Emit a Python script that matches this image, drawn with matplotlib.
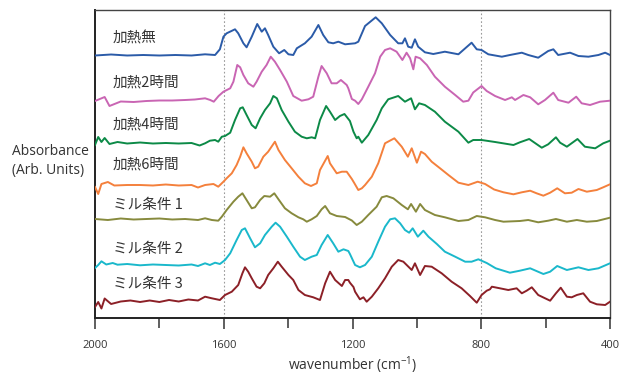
import matplotlib
matplotlib.use('Agg')
import matplotlib.pyplot as plt

plt.rcParams['font.family'] = ['Open Sans', 'Noto Sans CJK JP', 'DejaVu Sans']
plt.rcParams['mathtext.default'] = 'regular'

# spectra (wavenumber in cm-1, absorbance in arb. units incl. stacking offset)
wn_nashi = [2000, 1950, 1900, 1850, 1800, 1750, 1700, 1658, 1627, 1612, 1601, 1591, 1565, 1555, 1539, 1529, 1513,
            1496, 1482, 1472, 1462, 1446, 1428, 1412, 1399, 1384, 1373, 1348, 1327, 1306, 1291, 1275, 1260, 1244,
            1223, 1192, 1182, 1161, 1128, 1109, 1083, 1058, 1045, 1037, 1027, 1016, 1006, 996, 975, 949, 913, 871,
            830, 814, 799, 778, 736, 711, 674, 654, 623, 592, 576, 561, 524, 498, 467, 436, 415, 400]
ab_nashi = [262.5, 263.5, 262.5, 263, 262.5, 263, 262.5, 263.7, 263, 268.7, 281.3, 284.7, 288.7, 284.7, 274.7, 270.7,
            281.3, 294, 286.3, 289.7, 283, 271.3, 264.7, 268, 263.7, 263, 269.7, 274.7, 281.3, 293, 283, 275.7, 274.7,
            276.3, 273.7, 274.7, 276.3, 292, 300.7, 294.7, 283, 274.7, 274.7, 279.7, 271.3, 270.3, 278.7, 271.3,
            265.7, 264, 266.3, 263.7, 275.3, 268.7, 268, 263.7, 261.3, 263, 265.3, 263, 260.3, 267, 268.7, 263,
            265.3, 262, 261.3, 263, 265.3, 263]

wn_2h = [2000, 1970, 1955, 1920, 1880, 1840, 1800, 1760, 1720, 1690, 1658, 1642, 1631, 1616, 1601, 1580, 1570, 1558,
         1549, 1539, 1524, 1508, 1498, 1482, 1467, 1454, 1441, 1425, 1404, 1384, 1358, 1337, 1322, 1306, 1296, 1280,
         1265, 1249, 1236, 1218, 1213, 1202, 1192, 1182, 1171, 1151, 1130, 1114, 1099, 1083, 1063, 1045, 1032, 1021,
         1011, 1004, 990, 969, 944, 913, 881, 856, 840, 825, 799, 783, 757, 726, 705, 695, 669, 648, 623, 602, 576,
         561, 529, 505, 488, 462, 431, 400]
ab_2h = [217, 221, 212, 216.5, 216, 217, 217.5, 217.5, 218, 218.5, 219.7, 218, 216.3, 222, 226.3, 229.7, 236.3, 253,
         250.7, 243, 234.7, 231.3, 236.3, 246.3, 253, 261.3, 256.3, 248, 236.3, 222, 217.3, 218.7, 221.3, 241.3, 252,
         244.7, 234.7, 234.7, 238, 233, 229.7, 219, 217.3, 214, 218.7, 231.3, 244.7, 261.3, 268, 269.7, 266.3, 258,
         265.3, 259.7, 248.7, 261.3, 259.7, 253, 241.3, 231.3, 223, 216.3, 217.3, 225.5, 232, 227, 222, 218, 220.7,
         218, 223, 220.7, 213.7, 218, 225.3, 218, 215.3, 221.3, 214.7, 213, 216.3, 217.3]

wn_4h = [2000, 1990, 1980, 1970, 1955, 1930, 1900, 1860, 1820, 1780, 1740, 1700, 1675, 1658, 1643, 1627, 1617, 1606,
         1596, 1580, 1565, 1549, 1541, 1529, 1513, 1501, 1487, 1472, 1456, 1446, 1435, 1420, 1399, 1379, 1358, 1342,
         1327, 1316, 1301, 1282, 1270, 1254, 1239, 1225, 1208, 1197, 1187, 1182, 1171, 1151, 1125, 1109, 1089, 1058,
         1037, 1018, 1006, 993, 975, 944, 913, 871, 840, 825, 799, 757, 700, 680, 651, 612, 592, 568, 555, 534, 501,
         478, 446, 421, 400]
ab_4h = [173, 181, 176, 180, 174, 176, 174.5, 175.5, 174.5, 175, 174.5, 175, 172.5, 174.7, 177.3, 178, 176.3, 181.3,
         182, 185.3, 198, 209.7, 210.7, 203, 193, 189.7, 199.7, 208, 214.7, 222, 219.7, 208, 196.3, 186.3, 181.3,
         179.7, 180.7, 179.7, 198, 212, 206.3, 198, 202, 204, 197, 186.3, 179.7, 181.3, 175.3, 183, 198, 209.7, 218.7,
         222, 216.3, 219.7, 208.7, 214.7, 213, 206.3, 196.3, 186.3, 175.3, 178, 178, 176, 173, 175.7, 179, 170.3,
         173.7, 180.7, 175.3, 171.3, 179, 171.3, 169.7, 174.7, 177.3]

wn_6h = [2000, 1990, 1980, 1960, 1940, 1900, 1860, 1820, 1780, 1740, 1700, 1680, 1658, 1632, 1617, 1601, 1591, 1575,
         1560, 1549, 1539, 1529, 1513, 1503, 1493, 1477, 1462, 1441, 1430, 1410, 1389, 1368, 1348, 1329, 1311, 1301,
         1277, 1270, 1249, 1233, 1218, 1202, 1194, 1182, 1171, 1161, 1140, 1120, 1099, 1070, 1047, 1028, 1016, 1000,
         987, 975, 954, 928, 902, 871, 840, 811, 788, 760, 731, 700, 674, 648, 628, 607, 586, 564, 540, 519, 498, 472,
         441, 421, 400]
ab_6h = [131, 124, 134, 136, 132.5, 133, 133, 132.5, 133.5, 132.5, 133, 130.5, 133, 134, 131.3, 136.3, 139.7, 144.7,
         153, 161.3, 170.7, 164.7, 156.3, 149.7, 151.3, 161.3, 166.3, 176.3, 168, 158, 149.7, 141.3, 134.7, 132, 134.7,
         148, 162, 154.7, 144.7, 146.3, 146.3, 139, 134.7, 128, 129.7, 133, 141.3, 154.7, 174.7, 179.7, 171.3, 161.3,
         169.7, 155.3, 166.3, 164, 156.3, 149.7, 143, 135.3, 133, 136.3, 134, 128.5, 125.7, 123.7, 125.7, 127.3,
         124.7, 122.3, 125.3, 129.7, 124.7, 125.3, 129, 126.3, 128, 130.7, 133.7]

wn_mill1 = [2000, 1960, 1920, 1880, 1840, 1800, 1760, 1720, 1680, 1658, 1637, 1617, 1606, 1591, 1570, 1555, 1542, 1529,
            1513, 1503, 1487, 1474, 1456, 1443, 1430, 1410, 1389, 1368, 1353, 1342, 1327, 1311, 1296, 1285, 1270,
            1249, 1223, 1202, 1187, 1171, 1151, 1125, 1109, 1094, 1073, 1047, 1028, 1018, 1003, 990, 975, 944, 913,
            871, 840, 814, 788, 757, 731, 680, 654, 623, 592, 568, 534, 503, 472, 441, 400]
ab_mill1 = [99, 98, 99.5, 98.5, 99, 99.5, 98.5, 99, 98, 99.7, 98, 97.3, 101.3, 108, 116.3, 121.3, 124.7, 118, 109.7,
            110.7, 118, 122, 121.3, 124.7, 118.7, 109.7, 104.7, 100.7, 98.7, 96.3, 98.7, 102, 108.7, 112, 104.7, 102,
            101, 97.5, 93, 96.3, 103, 111.3, 120.7, 122, 119.7, 113, 108.7, 114, 106.3, 114, 108, 103, 100.7, 97, 98,
            102, 100.7, 98, 96.3, 97, 98, 95.7, 97.3, 99, 96.3, 98, 96.3, 97, 100.3]

wn_mill2 = [2000, 1990, 1980, 1965, 1945, 1930, 1900, 1860, 1820, 1780, 1740, 1700, 1680, 1658, 1643, 1627, 1612, 1596,
            1580, 1560, 1544, 1534, 1518, 1503, 1487, 1472, 1451, 1439, 1425, 1404, 1384, 1363, 1348, 1327, 1311,
            1296, 1277, 1260, 1244, 1228, 1213, 1208, 1192, 1177, 1161, 1140, 1120, 1099, 1083, 1068, 1052, 1037,
            1024, 1013, 997, 980, 964, 938, 913, 881, 850, 830, 809, 783, 755, 711, 680, 648, 607, 586, 564, 534, 498,
            467, 436, 400]
ab_mill2 = [50, 53, 56.7, 53.5, 55, 53.3, 54, 52.7, 53.5, 53, 52.5, 53.5, 52, 54.7, 53, 55.3, 54, 58, 64.7, 78, 88,
            89.7, 79.7, 70.7, 74.7, 83, 91.3, 95.3, 91.3, 81.3, 71.3, 61.3, 58, 61.3, 63, 73, 83, 74.7, 66.3, 68.7, 67,
            64, 53, 50.7, 53, 61.3, 76.3, 91.3, 98.7, 99.7, 94.7, 88, 85.3, 89.7, 81.3, 87.3, 81.3, 74, 66.3, 61.3,
            56.3, 56.3, 58.7, 55, 49.7, 45.3, 47.3, 49.7, 44, 46.3, 52, 48, 50.7, 48, 49.7, 54.7]

wn_mill3 = [2000, 1990, 1980, 1970, 1950, 1920, 1890, 1860, 1830, 1800, 1770, 1740, 1710, 1680, 1658, 1637, 1612, 1596,
            1575, 1555, 1542, 1534, 1524, 1513, 1498, 1487, 1474, 1462, 1446, 1432, 1420, 1399, 1384, 1368, 1348,
            1322, 1301, 1285, 1270, 1254, 1233, 1223, 1213, 1208, 1197, 1192, 1177, 1166, 1156, 1140, 1120, 1099,
            1078, 1058, 1042, 1016, 1006, 990, 975, 954, 923, 892, 861, 835, 814, 799, 783, 773, 767, 742, 716, 690,
            674, 659, 643, 623, 586, 568, 553, 534, 519, 503, 483, 462, 441, 415, 400]
ab_mill3 = [11, 16, 9.5, 19.5, 14, 16.5, 17.5, 16, 17.5, 16, 18, 16.5, 18.5, 17.5, 21.3, 19.7, 18, 23, 26.3, 33, 44.7,
            50.7, 46.3, 39.7, 31.3, 29.7, 34.7, 43, 49.7, 56.3, 51.3, 43, 38, 28, 23, 20.7, 18, 34.7, 46.3, 38, 32, 38,
            38, 35.3, 31, 26.3, 18.7, 20.7, 16.3, 21.3, 29.7, 39.7, 51.3, 58, 56.3, 48, 54.7, 43, 52, 51.3, 44.7, 36.3,
            29.7, 22, 15.3, 23, 27.3, 28.7, 31.3, 29.7, 28, 29.7, 24.7, 27.3, 30.7, 23, 17.3, 24.7, 30.3, 21.3, 20.7,
            23, 24.7, 16.3, 13.7, 13, 16.3]

labels = ['加熱無', '加熱2時間', '加熱4時間', '加熱6時間', 'ミル条件 1', 'ミル条件 2', 'ミル条件 3']
major_ticks = [2000, 1600, 1200, 800, 400]
minor_ticks = [1800, 1400, 1000, 600]
guide_lines = [1600, 800]


def main():
    series = [(wn_nashi, ab_nashi), (wn_2h, ab_2h), (wn_4h, ab_4h), (wn_6h, ab_6h),
              (wn_mill1, ab_mill1), (wn_mill2, ab_mill2), (wn_mill3, ab_mill3)]
    colors = ['#2b5ba8', '#c965b3', '#0c8a47', '#f4803c', '#878a3d', '#1ab8cb', '#8c2027']
    label_y = [280, 235.5, 193, 153, 113.5, 69.5, 34]
    text_col = '#333333'

    fig = plt.figure(figsize=(6.19, 3.76), dpi=100)
    ax = fig.add_axes([95 / 619, 58 / 376, 515 / 619, 308 / 376])

    for wl in guide_lines:
        ax.axvline(wl, color='#9a9a9a', lw=0.8, ls=(0, (1.5, 2)), zorder=1)

    for (x, y), c in zip(series, colors):
        ax.plot(x, y, color=c, lw=1.4, zorder=3)

    # sample names sit inside the axes, left of the 1600 line
    for lab, ly in zip(labels, label_y):
        ax.text(1944, ly, lab, ha='left', va='center', fontsize=10.5, color=text_col,
                family=['Noto Sans CJK JP', 'DejaVu Sans'])

    ax.set_xlim(2000, 400)
    ax.set_ylim(0, 308)
    ax.set_yticks([])
    ax.set_xticks(major_ticks)
    ax.set_xticks(minor_ticks, minor=True)
    ax.set_xticklabels([str(t) for t in major_ticks])
    ax.tick_params(axis='x', which='major', length=8, width=1.1, pad=8, labelsize=8, colors=text_col)
    ax.tick_params(axis='x', which='minor', length=7, width=1.1, colors=text_col)

    for side in ['left', 'bottom']:
        ax.spines[side].set_linewidth(1.4)
        ax.spines[side].set_color('#222222')
    for side in ['top', 'right']:
        ax.spines[side].set_linewidth(1.0)
        ax.spines[side].set_color('#444444')

    fig.text(352.5 / 619, 1 - 365.5 / 376, r'wavenumber (cm$^{-1}$)', ha='center', va='center',
             fontsize=10, color=text_col)
    fig.text(12 / 619, 1 - 161 / 376, 'Absorbance\n(Arb. Units)', ha='left', va='center',
             fontsize=10, color=text_col, linespacing=1.35)

    fig.savefig('out.png', dpi=100)


if __name__ == '__main__':
    main()
